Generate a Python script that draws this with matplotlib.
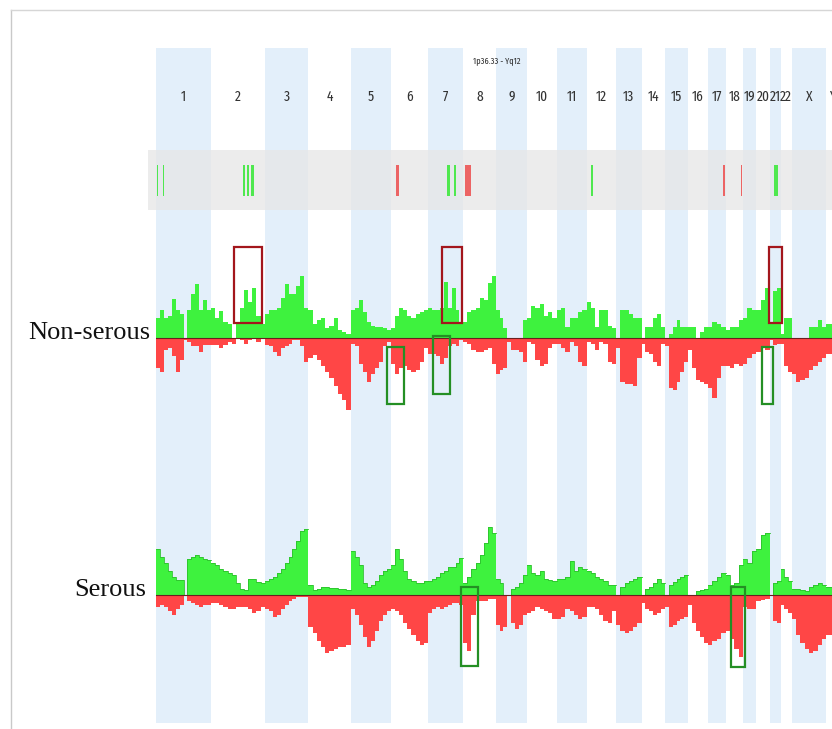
import numpy as np
import matplotlib
matplotlib.use("Agg")
import matplotlib.pyplot as plt
from matplotlib.patches import Rectangle
from matplotlib.lines import Line2D
from matplotlib import font_manager

# chromosome names and sizes (Mb, hg19)
chroms = ['1', '2', '3', '4', '5', '6', '7', '8', '9', '10', '11', '12',
          '13', '14', '15', '16', '17', '18', '19', '20', '21', '22', 'X', 'Y']
chrom_len = [249.25, 243.20, 198.02, 191.15, 180.92, 171.12, 159.14, 146.36,
             141.21, 135.53, 135.01, 133.85, 115.17, 107.35, 102.53, 90.35,
             81.20, 78.08, 59.13, 63.03, 48.13, 51.30, 155.27, 59.37]

# frequencies (%) in equal bins along each chromosome
ns_gain = [
    [20, 28, 20, 22, 39, 28, 24, 0, 28, 44, 54, 28, 38, 28],
    [30, 20, 27, 16, 14, 0, 14, 30, 48, 36, 50, 22, 14],
    [24, 28, 28, 30, 40, 54, 44, 44, 52, 62, 30],
    [28, 14, 18, 20, 10, 12, 20, 8, 6, 4],
    [28, 30, 38, 26, 16, 12, 11, 11, 10, 8],
    [10, 22, 30, 28, 22, 20, 24, 26, 28],
    [30, 28, 28, 30, 56, 30, 50, 28, 14],
    [16, 26, 28, 30, 40, 38, 55, 62],
    [28, 20, 10, 0, 0, 0, 0, 18],
    [20, 32, 30, 34, 22, 26, 20],
    [28, 30, 11, 20, 20, 26, 28],
    [36, 30, 11, 28, 28, 12, 10],
    [0, 28, 28, 24, 20, 20],
    [0, 11, 11, 20, 24, 11],
    [0, 4, 11, 18, 11, 11],
    [11, 11, 0, 6, 11],
    [11, 16, 14, 11],
    [8, 11, 11, 18],
    [20, 30, 28],
    [28, 38, 50],
    [14, 47, 50],
    [4, 20, 20],
    [0, 0, 0, 0, 11, 11, 18, 11],
    [14, 14, 14],
]
ns_loss = [
    [30, 34, 12, 10, 18, 34, 22, 2, 4, 8, 8, 14, 7, 7],
    [7, 7, 10, 7, 4, 6, 0, 2, 6, 2, 0, 4, 0],
    [7, 8, 14, 18, 10, 8, 6, 2, 2, 8, 24],
    [20, 17, 22, 28, 34, 40, 48, 56, 62, 72],
    [6, 8, 26, 34, 44, 36, 30, 24, 8, 4],
    [26, 36, 30, 28, 32, 34, 32, 24, 10],
    [16, 16, 18, 26, 20, 8, 6, 8, 2],
    [4, 6, 12, 14, 14, 12, 10, 26],
    [36, 32, 30, 4, 12, 12, 14, 24],
    [4, 6, 22, 28, 26, 10, 6],
    [6, 10, 14, 4, 8, 24, 28],
    [4, 6, 12, 4, 6, 24, 26],
    [10, 44, 46, 46, 48, 20],
    [6, 14, 16, 24, 28, 6],
    [8, 50, 52, 44, 34, 24],
    [12, 30, 42, 44, 46],
    [50, 60, 40, 28],
    [28, 30, 26, 28],
    [26, 20, 16],
    [14, 8, 12],
    [2, 7, 6],
    [6, 28, 34],
    [36, 44, 42, 40, 32, 28, 24, 20],
    [16, 16, 16],
]
s_gain = [
    [46, 38, 32, 24, 18, 15, 15, 0, 36, 38, 40, 38, 36, 35],
    [32, 30, 26, 24, 22, 20, 12, 6, 5, 16, 16, 13, 12],
    [14, 16, 18, 22, 26, 32, 38, 46, 54, 64, 66],
    [10, 5, 6, 8, 8, 7, 7, 6, 6, 5],
    [44, 38, 30, 12, 8, 10, 14, 20, 24, 26],
    [30, 46, 36, 24, 16, 14, 12, 12, 14],
    [14, 16, 18, 22, 24, 28, 28, 32, 37],
    [12, 18, 26, 32, 40, 52, 68, 62],
    [16, 12, 0, 0, 6, 8, 12, 20],
    [30, 22, 20, 24, 16, 15, 14],
    [16, 16, 18, 34, 24, 28, 26],
    [24, 22, 18, 16, 14, 10, 10],
    [0, 8, 12, 14, 16, 18],
    [0, 6, 8, 12, 16, 12],
    [0, 10, 13, 16, 18, 20],
    [0, 0, 4, 5, 6],
    [10, 14, 18, 22],
    [20, 10, 12, 30],
    [36, 32, 44],
    [46, 60, 62],
    [0, 12, 14],
    [26, 18, 14],
    [6, 6, 5, 4, 8, 10, 12, 10],
    [8, 8, 8],
]
s_loss = [
    [12, 10, 12, 16, 20, 14, 10, 0, 6, 8, 10, 12, 10, 10],
    [8, 8, 10, 12, 14, 14, 12, 12, 12, 14, 18, 16, 12],
    [14, 16, 22, 20, 14, 10, 6, 4, 2, 2, 2],
    [32, 38, 46, 52, 58, 56, 54, 52, 52, 50],
    [14, 20, 30, 42, 52, 46, 36, 26, 20, 16],
    [14, 16, 20, 28, 34, 40, 46, 50, 48],
    [18, 14, 12, 14, 12, 10, 8, 8, 10],
    [48, 56, 20, 6, 6, 6, 4, 4],
    [30, 36, 32, 0, 28, 34, 30, 20],
    [18, 16, 12, 14, 16, 18, 24],
    [24, 22, 14, 16, 20, 24, 22],
    [12, 12, 14, 20, 26, 28, 16],
    [30, 36, 38, 36, 32, 28],
    [8, 14, 16, 20, 18, 14],
    [12, 32, 30, 26, 24, 22],
    [10, 28, 36, 42, 48],
    [50, 46, 44, 38],
    [36, 44, 54, 62],
    [12, 14, 14],
    [6, 5, 4],
    [0, 26, 28],
    [10, 14, 18],
    [24, 40, 48, 54, 58, 56, 50, 44],
    [40, 40, 40],
]

# significant regions shown in the top track (chrom, start Mb, width Mb, type)
track_chrom = ['1', '1', '2', '2', '2', '6', '7', '7', '8', '12', '17', '18', '21']
track_start = [3, 30.4, 143.6, 161.7, 181.2, 23.5, 86.3, 118, 7.2, 20, 70.3, 67.6, 19.9]
track_width = [7, 6, 10, 10, 13.6, 15, 12, 6, 27, 7, 7, 7, 15]
track_type = ['gain', 'gain', 'gain', 'gain', 'gain', 'loss', 'gain', 'gain',
              'loss', 'gain', 'loss', 'loss', 'gain']

# highlighted regions (panel, chrom, start, end, low %, high %, colour)
hl_panel = ['ns', 'ns', 'ns', 'ns', 'ns', 'ns', 's', 's']
hl_chrom = ['2', '7', '21', '6', '7', '20', '8', '18']
hl_start = [105.7, 63.6, -4.1, -15.8, 21.4, 25.8, -10.8, 22.6]
hl_end = [229.7, 154.3, 53.4, 61.2, 98.4, 78.4, 67.6, 88.6]
hl_low = [15, 15, 15, -66, -56, -66, -71, -72]
hl_high = [91, 91, 91, -9, 2, -9, 8, 8]
hl_color = ['#a3161c', '#a3161c', '#a3161c', '#248f24', '#248f24', '#248f24',
            '#248f24', '#248f24']

green = '#3ef23e'
red = '#ff4646'
band_blue = '#e3effa'


# pick a narrow font for the chromosome labels if one is installed
def narrow_font(size):
    files = [f.fname for f in font_manager.fontManager.ttflist]
    for key in ['ExtraCondensed-Regular', 'SansNarrow-Regular', 'Condensed-Regular',
                'SemiCondensed-Regular']:
        for fn in files:
            base = fn.split('/')[-1]
            if key in base and 'Serif' not in base and 'Mono' not in base:
                return font_manager.FontProperties(fname=fn, size=size)
    return font_manager.FontProperties(family='DejaVu Sans', size=size * 0.8)


lab_font = narrow_font(10.5)
head_font = narrow_font(6.5)

offsets = np.concatenate([[0], np.cumsum(chrom_len)[:-1]])
start_of = dict(zip(chroms, offsets))

W, H = 832, 729
def box(x0, y0, x1, y1):
    return [x0 / W, 1 - y1 / H, (x1 - x0) / W, (y1 - y0) / H]

fig = plt.figure(figsize=(W / 100, H / 100), dpi=100)
x_max = 3063

# outer frame lines
fig.add_artist(Line2D([11 / W, 11 / W], [0, 1 - 10 / H], color='#c9c9c9', lw=1))
fig.add_artist(Line2D([11 / W, 831 / W], [1 - 10 / H, 1 - 10 / H], color='#d6d6d6', lw=1))

# background: chromosome bands, labels, top track
bg = fig.add_axes(box(156, 0, 832, 729))
bg.set_xlim(0, x_max)
bg.set_ylim(729, 0)
bg.axis('off')
for i, c in enumerate(chroms):
    if i % 2 == 0:
        bg.add_patch(Rectangle((offsets[i], 48), chrom_len[i], 675,
                               color=band_blue, lw=0, zorder=0))
    bg.text(offsets[i] + chrom_len[i] / 2, 97, c, ha='center', va='center',
            fontproperties=lab_font, color='#333333')
bg.text(start_of['9'] + 6, 60, '1p36.33 - Yq12', ha='center', va='center',
        fontproperties=head_font, color='#333333')

bg.add_patch(Rectangle((-36, 150), x_max + 40, 60, color='#e6e6e6', alpha=0.75,
                       lw=0, zorder=1, clip_on=False))
for c, st, wd, tp in zip(track_chrom, track_start, track_width, track_type):
    col = '#4fe84f' if tp == 'gain' else '#ec6464'
    bg.add_patch(Rectangle((start_of[c] + st, 165), wd, 31, facecolor=col,
                           edgecolor='none', zorder=2))


# profile panels
def panel(y0, y1, lo, hi):
    ax = fig.add_axes(box(156, y0, 832, y1))
    ax.patch.set_alpha(0)
    ax.set_xlim(0, x_max)
    ax.set_ylim(lo, hi)
    ax.axis('off')
    return ax


ax_ns = panel(240, 430, -92, 98)
ax_s = panel(500, 690, -95, 95)

for i in range(len(chroms)):
    edges = np.linspace(offsets[i], offsets[i] + chrom_len[i], len(ns_gain[i]) + 1)
    ax_ns.bar(edges[:-1], ns_gain[i], width=np.diff(edges), align='edge',
              color=green, lw=0)
    ax_ns.bar(edges[:-1], -np.array(ns_loss[i]), width=np.diff(edges),
              align='edge', color=red, lw=0)

    edges = np.linspace(offsets[i], offsets[i] + chrom_len[i], len(s_gain[i]) + 1)
    g = np.append(s_gain[i], s_gain[i][-1])
    l = -np.append(s_loss[i], s_loss[i][-1])
    ax_s.fill_between(edges, 0, g, step='post', color=green, lw=0)
    ax_s.step(edges, g, where='post', color='#2dc02d', lw=0.6)
    ax_s.fill_between(edges, 0, l, step='post', color=red, lw=0)

for ax in (ax_ns, ax_s):
    ax.axhline(0, color='#6b1f1f', lw=0.8)

for p, c, st, en, lo, hi, col in zip(hl_panel, hl_chrom, hl_start, hl_end,
                                     hl_low, hl_high, hl_color):
    ax = ax_ns if p == 'ns' else ax_s
    ax.add_patch(Rectangle((start_of[c] + st, lo), en - st, hi - lo,
                           fill=False, edgecolor=col, lw=1.6, zorder=5))

serif = ['Liberation Serif', 'DejaVu Serif']
fig.text(150 / W, 1 - 333 / H, 'Non-serous', ha='right', va='center',
         fontsize=19, family=serif, color='#111111')
fig.text(146 / W, 1 - 590 / H, 'Serous', ha='right', va='center',
         fontsize=19, family=serif, color='#111111')

fig.savefig('out.png', dpi=100, facecolor='white')
